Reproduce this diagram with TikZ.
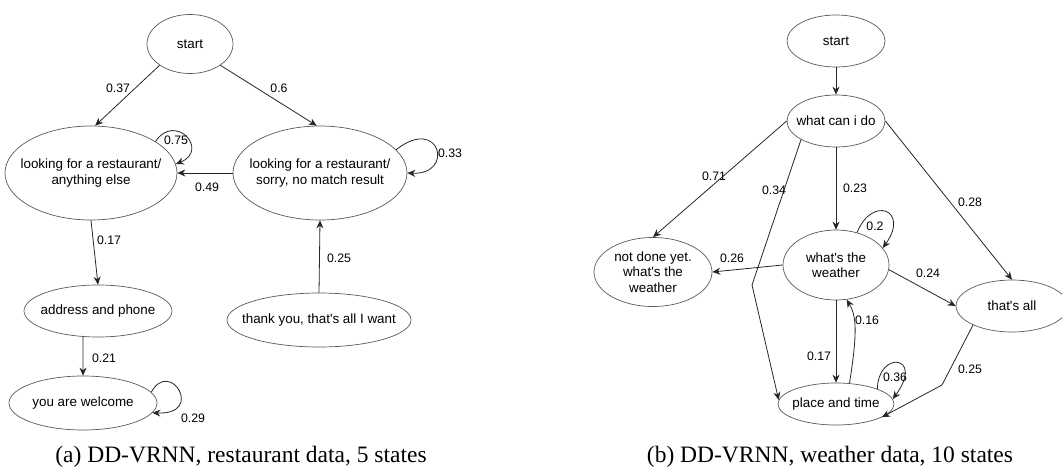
\documentclass[tikz,border=0pt]{standalone}
\usepackage{fontspec}
\setmainfont{Liberation Serif}
\newfontfamily\arialfont{Liberation Sans}
\usetikzlibrary{arrows.meta,shapes.geometric}

\begin{document}
\begin{tikzpicture}[x=1pt,y=1pt,
	state/.style={ellipse, draw=black!65, line width=0.7pt, inner xsep=-40pt, inner ysep=-12pt, align=center, font=\arialfont\fontsize{13.4}{15.5}\selectfont},
	trans/.style={draw=black!85, line width=0.8pt, -{Stealth[length=8pt,width=7pt]}},
	prob/.style={font=\arialfont\fontsize{12.3}{14}\selectfont, inner sep=0pt},
	subcap/.style={font=\fontsize{23.5}{26}\selectfont}]
	\useasboundingbox (0,0) rectangle (1062,-469);
	\node[state, minimum width=86pt, minimum height=59pt] (startA) at (190,-44) {start};
	\node[state, minimum width=172pt, minimum height=94pt] (lookA) at (91,-173) {looking for a restaurant/\\anything else};
	\node[state, minimum width=174pt, minimum height=94pt] (sorryA) at (320,-173) {looking for a restaurant/\\sorry, no match result};
	\node[state, minimum width=148pt, minimum height=52pt] (addrA) at (98,-311) {address and phone};
	\node[state, minimum width=148pt, minimum height=54pt] (welcA) at (83,-403) {you are welcome};
	\node[state, minimum width=184pt, minimum height=54pt] (thankA) at (319,-320) {thank you, that's all I want};
	\draw[trans] (startA.215) -- (lookA.85);
	\draw[trans] (startA.325) -- (sorryA.94);
	\draw[trans] (sorryA) -- (lookA);
	\draw[trans] (lookA.26) .. controls (175,-112) and (210,-150) .. (lookA.6);
	\draw[trans] (sorryA.17) .. controls (440,-115) and (455,-175) .. (sorryA.0);
	\draw[trans] (lookA.south) -- (addrA.north);
	\draw[trans] (addrA.240) -- (welcA.north);
	\draw[trans] (welcA.9) .. controls (170,-358) and (205,-415) .. (welcA.352);
	\draw[trans] (thankA.north) -- (sorryA.south);
	\foreach \p/\x/\y [count=\i] in {0.37/118/88, 0.6/279/88, 0.49/207/187, 0.75/176/140, 0.33/450/153, 0.17/109/240, 0.21/104/358, 0.29/193/418, 0.25/339/258}
		\node[prob] (probA\i) at (\x,-\y) {\p};
	\node[subcap] (capA) at (241,-457) {(a) DD-VRNN, restaurant data, 5 states};

	\node[state, minimum width=98pt, minimum height=52pt] (startB) at (836,-41) {start};
	\node[state, minimum width=98pt, minimum height=52pt] (whatB) at (836,-121) {what can i do};
	\node[state, minimum width=118pt, minimum height=69pt] (notB) at (653,-272) {not done yet.\\what's the\\weather};
	\node[state, minimum width=106pt, minimum height=70pt] (weatherB) at (836,-265) {what's the\\weather};
	\node[state, minimum width=112pt, minimum height=52pt] (allB) at (1012,-306) {that's all};
	\node[state, minimum width=116pt, minimum height=42pt] (placeB) at (836,-404) {place and time};
	\coordinate (bendB1) at (752,-285);
	\coordinate (bendB2) at (942,-385);
	\draw[trans] (startB) -- (whatB);
	\draw[trans] (whatB.west) -- (notB.north);
	\draw[trans] (whatB.208) -- (bendB1) -- (placeB.176);
	\draw[trans] (whatB) -- (weatherB);
	\draw[trans] (whatB.east) -- (allB.north);
	\draw[trans] (weatherB.57) .. controls (872,-195) and (910,-210) .. (weatherB.20);
	\draw[trans] (weatherB.west) -- (notB.east);
	\draw[trans] (weatherB.355) -- (allB.west);
	\draw[trans] (weatherB.south) -- (placeB.north);
	\draw[trans] (placeB.57) .. controls (858,-330) and (856,-315) .. (weatherB.287);
	\draw[trans] (placeB.20) .. controls (878,-350) and (925,-355) .. (placeB.5);
	\draw[trans] (allB.206) -- (bendB2) -- (placeB.344);
	\foreach \p/\x/\y [count=\i] in {0.71/714/176, 0.34/774/190, 0.23/855/188, 0.28/970/202, 0.2/875/226, 0.26/732/258, 0.24/928/273, 0.17/819/356, 0.16/867/320, 0.36/895/377, 0.25/970/369}
		\node[prob] (probB\i) at (\x,-\y) {\p};
	\node[subcap] (capB) at (830,-457) {(b) DD-VRNN, weather data, 10 states};
\end{tikzpicture}
\end{document}
